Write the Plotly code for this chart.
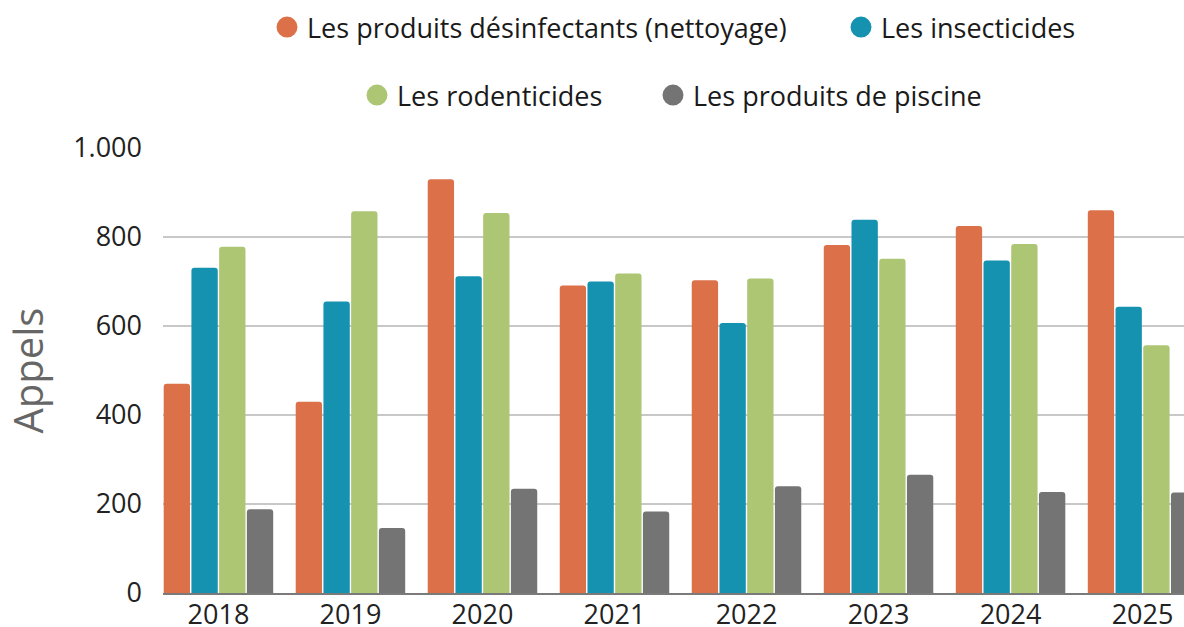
import plotly.graph_objects as go

years = ["2018", "2019", "2020", "2021", "2022", "2023", "2024", "2025"]
desinfectants = [470, 430, 930, 691, 703, 782, 825, 860]
insecticides = [731, 655, 712, 700, 607, 839, 747, 643]
rodenticides = [778, 858, 854, 718, 707, 751, 784, 557]
piscine = [188, 146, 234, 183, 240, 266, 227, 226]

series_names = [
    "Les produits désinfectants (nettoyage)",
    "Les insecticides",
    "Les rodenticides",
    "Les produits de piscine",
]
series_values = [desinfectants, insecticides, rodenticides, piscine]
colors = ["#DC7149", "#1692B1", "#ACC674", "#747474"]
legend_ids = ["legend", "legend2", "legend3", "legend4"]

W, H = 1184, 627
FONT = "Open Sans"
FS = 27

fig = go.Figure()
for name, vals, col in zip(series_names, series_values, colors):
    fig.add_trace(go.Bar(
        x=years, y=vals, name=name, marker=dict(color=col, line=dict(width=0)),
        showlegend=False,
    ))
for name, col, lg in zip(series_names, colors, legend_ids):
    fig.add_trace(go.Scatter(
        x=[None], y=[None], mode="markers", name=name, legend=lg,
        marker=dict(color=col, size=16, symbol="circle", line=dict(color=col, width=5)),
        showlegend=True,
    ))

# legend positions (container pixels)
leg_pos = [(287, 27.5), (861, 27.5), (377, 95.5), (673, 95.5)]
leg_layout = {}
for lg, (cx, cy) in zip(legend_ids, leg_pos):
    leg_layout[lg] = dict(
        x=(cx - 20) / W, y=1 - cy / H, xref="container", yref="container",
        xanchor="left", yanchor="middle", orientation="h",
        font=dict(family=FONT, size=FS, color="#1a1a1a"),
        bgcolor="rgba(0,0,0,0)", borderwidth=0, itemsizing="trace",
    )

fig.update_layout(
    width=W, height=H,
    margin=dict(l=163, r=0, t=148, b=34, autoexpand=False),
    paper_bgcolor="white", plot_bgcolor="white",
    barmode="group", bargap=0.16, bargroupgap=0.05, barcornerradius=3,
    separators=",.",
    font=dict(family=FONT, size=FS, color="#222222"),
    xaxis=dict(
        type="category", range=[-0.42, 7.314], showgrid=False, automargin=False,
        showline=True, linecolor="#7a7a7a", linewidth=1.5,
        tickfont=dict(family=FONT, size=FS, color="#222222"),
        ticks="", ticklabelstandoff=-3, fixedrange=True,
    ),
    yaxis=dict(
        range=[0, 1000], tickvals=[0, 200, 400, 600, 800, 1000], tickformat=",",
        showgrid=True, gridcolor="#c8c8c8", gridwidth=1.5, automargin=False,
        zeroline=False, showline=False, ticks="",
        ticklabelstandoff=20, fixedrange=True,
        tickfont=dict(family=FONT, size=FS, color="#222222"),
        title=dict(text="Appels", font=dict(family=FONT, size=40, color="#666666"), standoff=26),
    ),
    **leg_layout,
)

fig.write_html(
    "out.html",
    config={"displayModeBar": False},
    post_script="document.body.style.margin='0';document.body.style.overflow='hidden';",
)
